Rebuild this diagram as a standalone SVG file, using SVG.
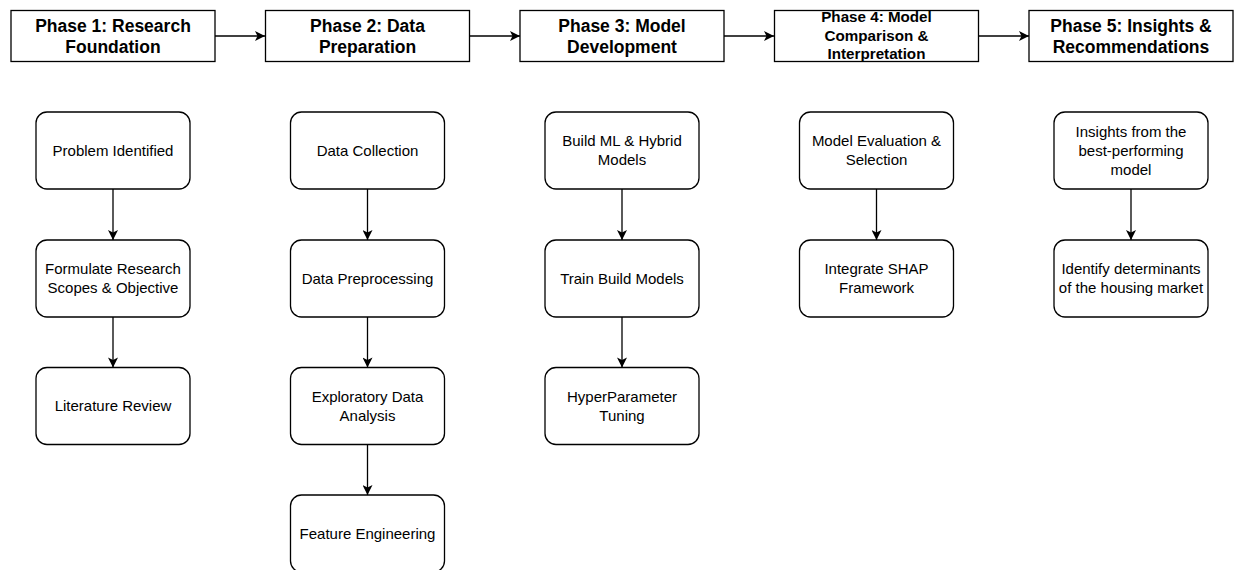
<svg xmlns="http://www.w3.org/2000/svg" width="1235" height="570" viewBox="0 0 1235 570">
<defs>
<style>
.hdr{fill:#fff;stroke:#000;stroke-width:1.3}
.node{fill:#fff;stroke:#000;stroke-width:1.3}
.ht{font-family:"Liberation Sans",Arial,sans-serif;font-weight:bold;font-size:17.5px;fill:#000;text-anchor:middle}
.ht4{font-family:"Liberation Sans",Arial,sans-serif;font-weight:bold;font-size:15.2px;fill:#000;text-anchor:middle}
.nt{font-family:"Liberation Sans",Arial,sans-serif;font-size:15px;fill:#000;text-anchor:middle}
.edge{stroke:#000;stroke-width:1.3;fill:none;marker-end:url(#arr)}
</style>
<marker id="arr" viewBox="0 0 10 10" refX="10" refY="5" markerWidth="11" markerHeight="10" markerUnits="userSpaceOnUse" orient="auto">
<path d="M0,0 L10,5 L0,10 L2.5,5 z" fill="#000"/>
</marker>
</defs>
<rect width="1235" height="570" fill="#fff"/>

<g id="connectors">
<line class="edge" x1="215" y1="36" x2="265" y2="36"/>
<line class="edge" x1="469" y1="36" x2="520" y2="36"/>
<line class="edge" x1="723" y1="36" x2="774" y2="36"/>
<line class="edge" x1="978" y1="36" x2="1029" y2="36"/>

<line class="edge" x1="113" y1="189" x2="113" y2="240"/>
<line class="edge" x1="113" y1="317" x2="113" y2="367.5"/>

<line class="edge" x1="367.5" y1="189" x2="367.5" y2="240"/>
<line class="edge" x1="367.5" y1="317" x2="367.5" y2="367.5"/>
<line class="edge" x1="367.5" y1="444.5" x2="367.5" y2="495"/>

<line class="edge" x1="622" y1="189" x2="622" y2="240"/>
<line class="edge" x1="622" y1="317" x2="622" y2="367.5"/>

<line class="edge" x1="876.5" y1="189" x2="876.5" y2="240"/>

<line class="edge" x1="1131" y1="189" x2="1131" y2="240"/>
</g>

<g id="phase1">
<rect class="hdr" x="11" y="10.5" width="204" height="51"/>
<text class="ht" x="113" y="32">Phase 1: Research</text>
<text class="ht" x="113" y="53">Foundation</text>
</g>
<g id="phase2">
<rect class="hdr" x="265.5" y="10.5" width="204" height="51"/>
<text class="ht" x="367.5" y="32">Phase 2: Data</text>
<text class="ht" x="367.5" y="53">Preparation</text>
</g>
<g id="phase3">
<rect class="hdr" x="520" y="10.5" width="204" height="51"/>
<text class="ht" x="622" y="32">Phase 3: Model</text>
<text class="ht" x="622" y="53">Development</text>
</g>
<g id="phase4">
<rect class="hdr" x="774.5" y="10.5" width="204" height="51"/>
<text class="ht4" x="876.5" y="22.3">Phase 4: Model</text>
<text class="ht4" x="876.5" y="40.6">Comparison &amp;</text>
<text class="ht4" x="876.5" y="58.9">Interpretation</text>
</g>
<g id="phase5">
<rect class="hdr" x="1029" y="10.5" width="204" height="51"/>
<text class="ht" x="1131" y="32">Phase 5: Insights &amp;</text>
<text class="ht" x="1131" y="53">Recommendations</text>
</g>

<g id="problem-identified">
<rect class="node" x="36" y="112" width="154" height="77" rx="11"/>
<text class="nt" x="113" y="155.5">Problem Identified</text>
</g>
<g id="formulate-research">
<rect class="node" x="36" y="240" width="154" height="77" rx="11"/>
<text class="nt" x="113" y="274">Formulate Research</text>
<text class="nt" x="113" y="293">Scopes &amp; Objective</text>
</g>
<g id="literature-review">
<rect class="node" x="36" y="367.5" width="154" height="77" rx="11"/>
<text class="nt" x="113" y="411">Literature Review</text>
</g>

<g id="data-collection">
<rect class="node" x="290.5" y="112" width="154" height="77" rx="11"/>
<text class="nt" x="367.5" y="155.5">Data Collection</text>
</g>
<g id="data-preprocessing">
<rect class="node" x="290.5" y="240" width="154" height="77" rx="11"/>
<text class="nt" x="367.5" y="283.5">Data Preprocessing</text>
</g>
<g id="eda">
<rect class="node" x="290.5" y="367.5" width="154" height="77" rx="11"/>
<text class="nt" x="367.5" y="401.5">Exploratory Data</text>
<text class="nt" x="367.5" y="420.5">Analysis</text>
</g>
<g id="feature-engineering">
<rect class="node" x="290.5" y="495" width="154" height="77" rx="11"/>
<text class="nt" x="367.5" y="538.5">Feature Engineering</text>
</g>

<g id="build-models">
<rect class="node" x="545" y="112" width="154" height="77" rx="11"/>
<text class="nt" x="622" y="146">Build ML &amp; Hybrid</text>
<text class="nt" x="622" y="165">Models</text>
</g>
<g id="train-models">
<rect class="node" x="545" y="240" width="154" height="77" rx="11"/>
<text class="nt" x="622" y="283.5">Train Build Models</text>
</g>
<g id="hyperparameter-tuning">
<rect class="node" x="545" y="367.5" width="154" height="77" rx="11"/>
<text class="nt" x="622" y="401.5">HyperParameter</text>
<text class="nt" x="622" y="420.5">Tuning</text>
</g>

<g id="model-evaluation">
<rect class="node" x="799.5" y="112" width="154" height="77" rx="11"/>
<text class="nt" x="876.5" y="146">Model Evaluation &amp;</text>
<text class="nt" x="876.5" y="165">Selection</text>
</g>
<g id="integrate-shap">
<rect class="node" x="799.5" y="240" width="154" height="77" rx="11"/>
<text class="nt" x="876.5" y="274">Integrate SHAP</text>
<text class="nt" x="876.5" y="293">Framework</text>
</g>

<g id="insights">
<rect class="node" x="1054" y="112" width="154" height="77" rx="11"/>
<text class="nt" x="1131" y="137">Insights from the</text>
<text class="nt" x="1131" y="156">best-performing</text>
<text class="nt" x="1131" y="175">model</text>
</g>
<g id="identify-determinants">
<rect class="node" x="1054" y="240" width="154" height="77" rx="11"/>
<text class="nt" x="1131" y="274">Identify determinants</text>
<text class="nt" x="1131" y="293">of the housing market</text>
</g>
</svg>
